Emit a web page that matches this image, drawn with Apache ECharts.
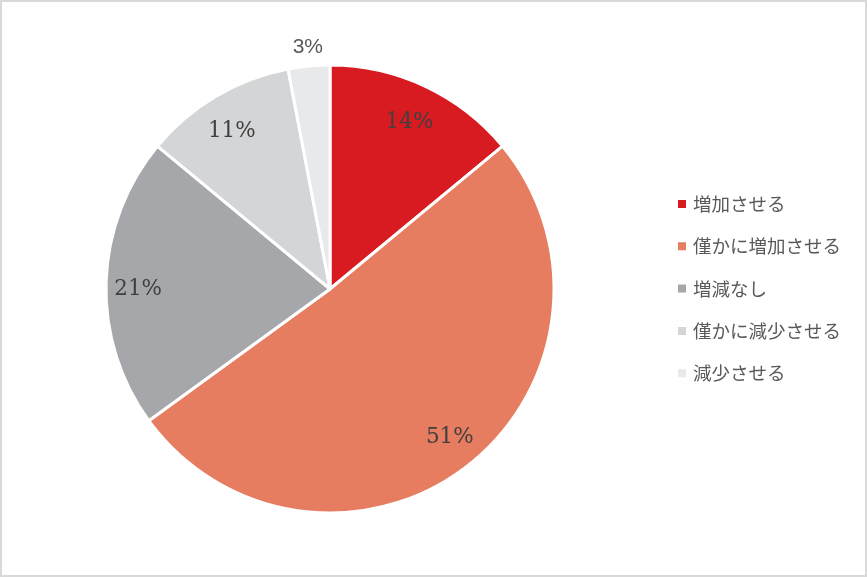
<!DOCTYPE html>
<html><head><meta charset="utf-8">
<script src="https://cdn.jsdelivr.net/npm/echarts@6/dist/echarts.min.js"></script>
<style>
html,body{margin:0;padding:0;background:#fff;}
#wrap{position:relative;width:867px;height:577px;}
#c{width:867px;height:577px;}
#frame{position:absolute;left:0;top:0;width:867px;height:577px;box-sizing:border-box;border:2px solid #d9d9d9;pointer-events:none;}
</style>
</head><body>
<div id="wrap"><div id="c"></div><div id="frame"></div></div>
<script>
const categories = ['増加させる', '僅かに増加させる', '増減なし', '僅かに減少させる', '減少させる'];
const values = [14, 51, 21, 11, 3];
const colors = ['#d81a21', '#e67c60', '#a6a7ab', '#d4d5d7', '#e8e9eb'];
const outsideLabelIndex = 4;
// fine label nudges (styling only)
const labelNudges = [[-1, 4], [4, -1], [-3, 6], [-2, 5], [1, 3]];

const chart = echarts.init(document.getElementById('c'));
const center = [330, 289];
const R = 224;

const mainData = categories.map((n, i) => ({ name: n, value: values[i], itemStyle: { color: colors[i] } }));
const insideData = categories.map((n, i) => ({
  name: n, value: values[i],
  label: { show: i !== outsideLabelIndex, offset: labelNudges[i] }
}));
const outsideData = categories.map((n, i) => ({
  name: n, value: values[i],
  label: { show: i === outsideLabelIndex, offset: labelNudges[i] }
}));

chart.setOption({
  animation: false,
  legend: {
    orient: 'vertical',
    left: 671,
    top: 189,
    data: categories,
    itemWidth: 10,
    itemHeight: 10,
    itemGap: 22.3,
    icon: 'rect',
    textStyle: { fontFamily: '"Noto Sans CJK JP", sans-serif', fontSize: 18.5, color: '#595959', lineHeight: 20, padding: [0, 0, 0, 1] }
  },
  series: [
    {
      type: 'pie',
      center: center,
      radius: [0, R],
      startAngle: 90,
      clockwise: true,
      data: mainData,
      label: { show: false },
      labelLine: { show: false },
      itemStyle: { borderColor: '#ffffff', borderWidth: 3 },
      emphasis: { disabled: true }
    },
    {
      type: 'pie',
      center: center,
      radius: [148, R],
      startAngle: 90,
      clockwise: true,
      silent: true,
      legendHoverLink: false,
      data: insideData,
      itemStyle: { color: 'rgba(0,0,0,0)', borderWidth: 0 },
      label: {
        position: 'inside',
        formatter: '{d}%',
        fontFamily: '"DejaVu Serif", serif',
        fontSize: 21.5,
        color: '#404040'
      },
      labelLine: { show: false },
      emphasis: { disabled: true }
    },
    {
      type: 'pie',
      center: center,
      radius: [R, 262],
      startAngle: 90,
      clockwise: true,
      silent: true,
      legendHoverLink: false,
      data: outsideData,
      itemStyle: { color: 'rgba(0,0,0,0)', borderWidth: 0 },
      label: {
        position: 'inside',
        formatter: '{d}%',
        fontFamily: '"Liberation Sans", sans-serif',
        fontSize: 21,
        color: '#595959'
      },
      labelLine: { show: false },
      emphasis: { disabled: true }
    }
  ]
});
</script>
</body></html>
